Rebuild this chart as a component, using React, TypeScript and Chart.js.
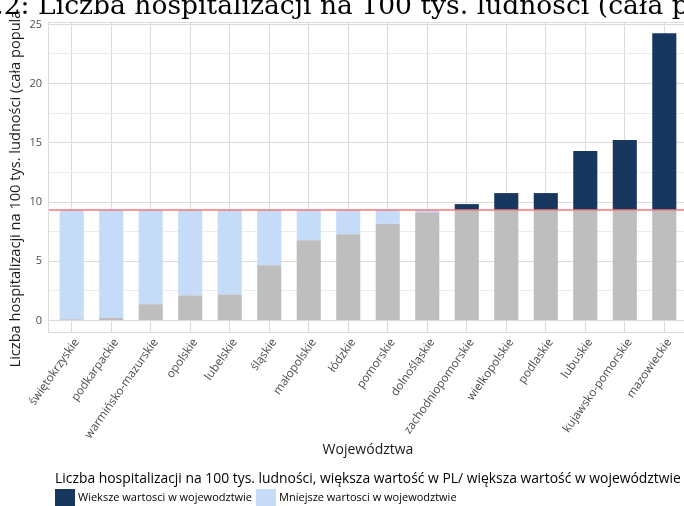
import React, { useEffect, useRef } from "react";
import { Chart, registerables } from "chart.js";

Chart.register(...registerables);

// ---- data ----
const CATEGORIES = [
  "świętokrzyskie",
  "podkarpackie",
  "warmińsko-mazurskie",
  "opolskie",
  "lubelskie",
  "śląskie",
  "małopolskie",
  "łódzkie",
  "pomorskie",
  "dolnośląskie",
  "zachodniopomorskie",
  "wielkopolskie",
  "podlaskie",
  "lubuskie",
  "kujawsko-pomorskie",
  "mazowieckie",
];
const VALUES = [0.1, 0.22, 1.38, 2.12, 2.2, 4.66, 6.78, 7.29, 8.16, 9.15, 9.83, 10.76, 10.76, 14.32, 15.25, 24.24];
const PL_VALUE = 9.33;
const Y_TICKS = [0, 2.5, 5, 7.5, 10, 12.5, 15, 17.5, 20, 22.5, 25];
const Y_LABELED = [0, 5, 10, 15, 20, 25];

const TITLE_PREFIX = "Wykres 1.2: ";
const TITLE_MAIN = "Liczba hospitalizacji na 100 tys. ludności (cała populacja)";
const TITLE_FIT = "Liczba hospitalizacji na 100 tys. ludności (cała ";
const Y_TITLE = "Liczba hospitalizacji na 100 tys. ludności (cała populacja)";
const X_TITLE = "Województwa";
const LEGEND_TITLE = "Liczba hospitalizacji na 100 tys. ludności, większa wartość w PL/ większa wartość w województwie";
const LABEL_BASE = "Wartość wspólna";
const LABEL_HIGHER = "Wieksze wartosci w wojewodztwie";
const LABEL_LOWER = "Mniejsze wartosci w wojewodztwie";

// ---- styles ----
const GRAY = "#BEBEBE";
const LIGHT = "#C6DBF7";
const DARK = "#17375E";
const RED = "#F27A7A";
const GRID_MAJOR = "#DBDBDB";
const GRID_MINOR = "#ECECEC";
const SANS = "'Open Sans'";
const SERIF = "'DejaVu Serif'";

const CANVAS_W = 700;
const CANVAS_H = 506;

const overlayPlugin = {
  id: "overlay",
  afterDatasetsDraw(chart: any) {
    const { ctx, chartArea, scales } = chart;
    const py = scales.y.getPixelForValue(PL_VALUE);
    ctx.save();
    ctx.strokeStyle = RED;
    ctx.lineWidth = 1.5;
    ctx.beginPath();
    ctx.moveTo(chartArea.left, py);
    ctx.lineTo(chartArea.right, py);
    ctx.stroke();
    ctx.strokeStyle = GRID_MAJOR;
    ctx.lineWidth = 1;
    ctx.strokeRect(chartArea.left + 0.5, chartArea.top + 0.5, chartArea.right - chartArea.left - 1, chartArea.bottom - chartArea.top - 1);
    ctx.restore();
  },
  afterDraw(chart: any) {
    const { ctx, chartArea } = chart;
    ctx.save();
    ctx.save();
    ctx.beginPath();
    ctx.rect(0, 10, 30, CANVAS_H);
    ctx.clip();
    ctx.translate(16, (chartArea.top + chartArea.bottom) / 2);
    ctx.rotate(-Math.PI / 2);
    ctx.font = `14.6px ${SANS}`;
    ctx.fillStyle = "#1A1A1A";
    ctx.textAlign = "center";
    ctx.textBaseline = "middle";
    ctx.fillText(Y_TITLE, 0, 0);
    ctx.restore();

    // main title, clipped by the page edges like the reference
    ctx.font = `100px ${SERIF}`;
    const w100 = ctx.measureText(TITLE_FIT).width;
    const size = (100 * (672 - 38)) / w100;
    ctx.font = `${size}px ${SERIF}`;
    ctx.fillStyle = "#000";
    ctx.textBaseline = "alphabetic";
    ctx.textAlign = "right";
    ctx.fillText(TITLE_PREFIX, 38, 14);
    ctx.textAlign = "left";
    ctx.fillText(TITLE_MAIN, 38, 14);

    const ds = chart.data.datasets;
    ctx.font = `13.9px ${SANS}`;
    ctx.fillStyle = "#000";
    ctx.textBaseline = "middle";
    ctx.fillText(LEGEND_TITLE, 55, 479);
    ctx.font = `11px ${SANS}`;
    let x = 55;
    [ds[2], ds[1]].forEach((d: any) => {
      ctx.fillStyle = d.backgroundColor;
      ctx.fillRect(x, 489, 20, 17);
      ctx.fillStyle = "#000";
      ctx.fillText(d.label, x + 23, 497.5);
      x += 23 + ctx.measureText(d.label).width + 4;
    });
    ctx.restore();
  },
};

export default function App() {
  const ref = useRef<HTMLCanvasElement | null>(null);

  useEffect(() => {
    document.body.style.margin = "0";
    if (!ref.current) return;
    const base = VALUES.map((v, i) => ({ x: i, y: Math.min(v, PL_VALUE) }));
    const lower = VALUES.map((v, i) => ({ x: i, y: Math.max(PL_VALUE - v, 0) }));
    const higher = VALUES.map((v, i) => ({ x: i, y: Math.max(v - PL_VALUE, 0) }));

    const chart = new Chart(ref.current, {
      type: "bar",
      data: {
        datasets: [
          { label: LABEL_BASE, data: base, backgroundColor: GRAY, barPercentage: 0.61, categoryPercentage: 1 },
          { label: LABEL_LOWER, data: lower, backgroundColor: LIGHT, barPercentage: 0.61, categoryPercentage: 1 },
          { label: LABEL_HIGHER, data: higher, backgroundColor: DARK, barPercentage: 0.61, categoryPercentage: 1 },
        ],
      },
      options: {
        animation: false,
        responsive: false,
        maintainAspectRatio: false,
        layout: { padding: { top: 22, left: 0, right: 12, bottom: 46 } },
        plugins: {
          legend: { display: false },
          title: { display: false },
          tooltip: { enabled: false },
        },
        scales: {
          x: {
            type: "linear",
            stacked: true,
            offset: false,
            min: -0.6,
            max: CATEGORIES.length - 0.4,
            afterBuildTicks: (axis: any) => {
              axis.ticks = CATEGORIES.map((_, i) => ({ value: i }));
            },
            afterFit: (axis: any) => {
              axis.height = 127;
            },
            ticks: {
              autoSkip: false,
              minRotation: 55,
              maxRotation: 55,
              padding: 3,
              labelOffset: 5,
              color: "#4D4D4D",
              font: { family: SANS, size: 11.6 },
              callback: (v: any) => CATEGORIES[Math.round(Number(v))] ?? "",
            },
            grid: { color: GRID_MAJOR, drawTicks: false, lineWidth: 1, offset: false },
            border: { display: false },
            title: {
              display: true,
              text: X_TITLE,
              color: "#1A1A1A",
              font: { family: SANS, size: 14 },
              padding: { top: 0, bottom: 2 },
            },
          },
          y: {
            stacked: true,
            min: -1.05,
            max: 25.2,
            afterBuildTicks: (axis: any) => {
              axis.ticks = Y_TICKS.map((v) => ({ value: v }));
            },
            afterFit: (axis: any) => {
              axis.width = 48;
            },
            ticks: {
              padding: 6,
              color: "#4D4D4D",
              font: { family: SANS, size: 11 },
              callback: (v: any) => (Y_LABELED.includes(Number(v)) ? String(v) : ""),
            },
            grid: {
              drawTicks: false,
              color: (c: any) => (Y_LABELED.includes(c.tick?.value) ? GRID_MAJOR : GRID_MINOR),
              lineWidth: 1,
            },
            border: { display: false },
          },
        },
      },
      plugins: [overlayPlugin],
    });
    return () => chart.destroy();
  }, []);

  return (
    <div style={{ width: 684, height: 506, overflow: "hidden", position: "relative", background: "#fff" }}>
      <canvas ref={ref} width={CANVAS_W} height={CANVAS_H} style={{ width: CANVAS_W, height: CANVAS_H, display: "block" }} />
    </div>
  );
}
